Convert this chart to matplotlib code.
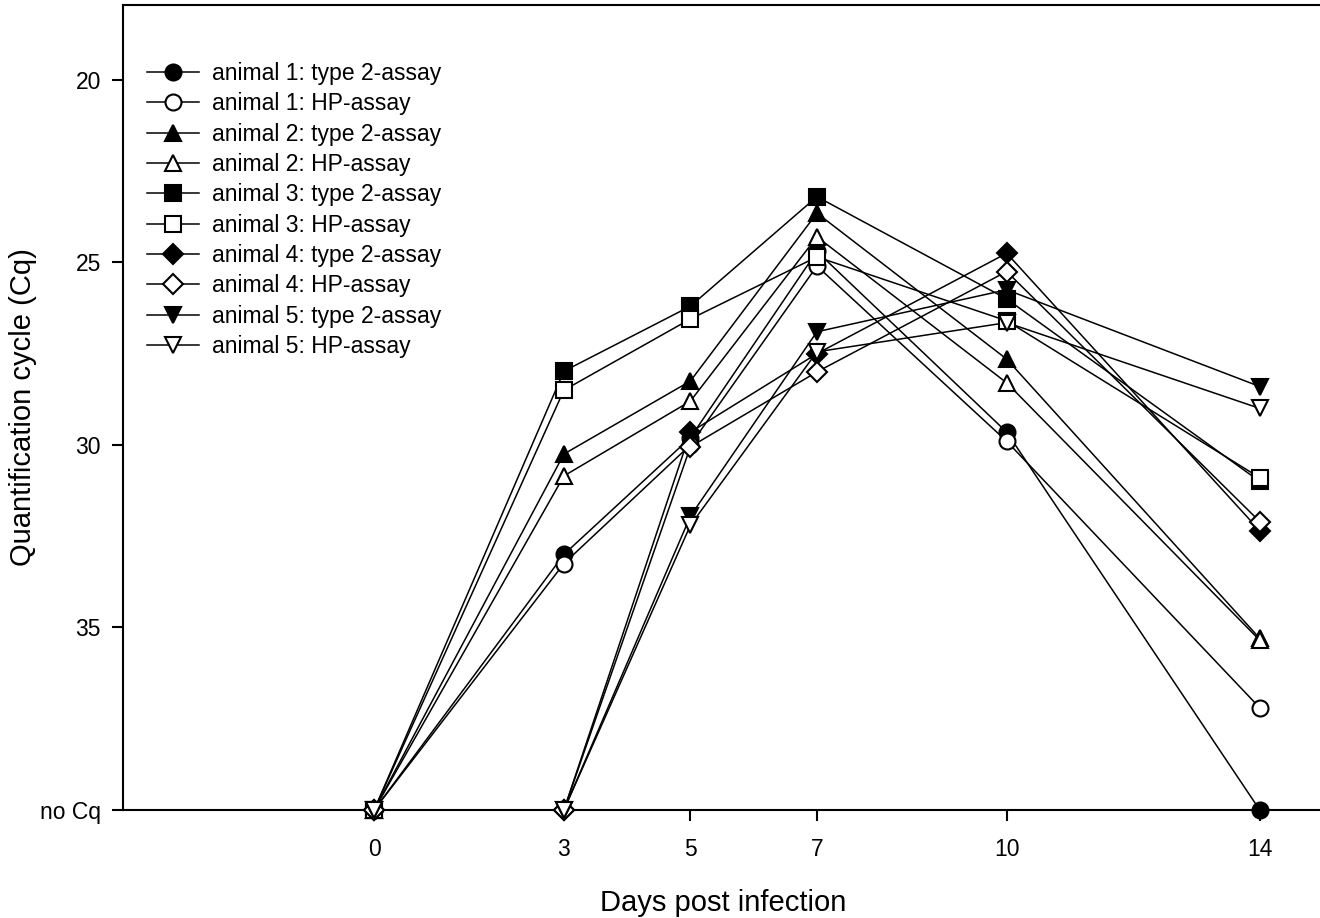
import matplotlib
matplotlib.use("Agg")
import matplotlib.pyplot as plt
from matplotlib.lines import Line2D

plt.rcParams['font.family'] = ['Liberation Sans', 'DejaVu Sans']

# data (40 = no Cq)
days = [0, 3, 5, 7, 10, 14]
a1_type2 = [40, 33.0, 29.8, 24.7, 29.65, 40]
a1_hp = [40, 33.25, 30.0, 25.1, 29.9, 37.2]
a2_type2 = [40, 30.25, 28.25, 23.65, 27.65, 35.3]
a2_hp = [40, 30.85, 28.8, 24.3, 28.3, 35.35]
a3_type2 = [40, 27.98, 26.2, 23.2, 26.0, 31.0]
a3_hp = [40, 28.5, 26.55, 24.85, 26.6, 30.9]
a4_type2 = [40, 40, 29.65, 27.5, 24.75, 32.35]
a4_hp = [40, 40, 30.05, 28.0, 25.25, 32.1]
a5_type2 = [40, 40, 31.95, 26.9, 25.75, 28.4]
a5_hp = [40, 40, 32.2, 27.45, 26.65, 29.0]

labels = ['animal 1: type 2-assay', 'animal 1: HP-assay',
          'animal 2: type 2-assay', 'animal 2: HP-assay',
          'animal 3: type 2-assay', 'animal 3: HP-assay',
          'animal 4: type 2-assay', 'animal 4: HP-assay',
          'animal 5: type 2-assay', 'animal 5: HP-assay']
series = [a1_type2, a1_hp, a2_type2, a2_hp, a3_type2, a3_hp,
          a4_type2, a4_hp, a5_type2, a5_hp]

yticks = [20, 25, 30, 35, 40]
ytick_labels = ['20', '25', '30', '35', 'no Cq']

markers = ['o', 'o', '^', '^', 's', 's', 'D', 'D', 'v', 'v']
sizes = {'o': 11.5, '^': 12, 's': 11, 'D': 10, 'v': 12}

fig = plt.figure(figsize=(13.2, 9.18), dpi=100)
ax = fig.add_axes([123/1320, 1-810/918, 1200/1320, 805/918])

handles = []
for i, (ys, lab) in enumerate(zip(series, labels)):
    m = markers[i]
    fc = 'black' if i % 2 == 0 else 'white'
    ax.plot(days, ys, '-', color='black', lw=1.1, zorder=2)
    ax.plot(days, ys, ls='none', marker=m, ms=sizes[m], mfc=fc,
            mec='black', mew=1.5, zorder=3 + i * 0.01, clip_on=False)
    handles.append(Line2D([], [], color='black', lw=1.1, marker=m,
                          ms=sizes[m], mfc=fc, mec='black', mew=1.5, label=lab))

ax.set_xlim(-3.97, 15.0)
ax.set_ylim(40, 17.95)
ax.set_xticks(days)
ax.set_yticks(yticks)
ax.set_yticklabels(ytick_labels)

for s in ax.spines.values():
    s.set_linewidth(1.5)
ax.tick_params(axis='both', direction='out', length=8, width=1.5, labelsize=16.5)
ax.tick_params(axis='x', pad=12)
ax.tick_params(axis='y', pad=8)

ax.set_xlabel('Days post infection', fontsize=21, labelpad=20)
ax.set_ylabel('Quantification cycle (Cq)', fontsize=21, labelpad=2)

ax.legend(handles=handles, loc='upper left', bbox_to_anchor=(0.02, 0.929),
          frameon=False, fontsize=16.5, borderpad=0, borderaxespad=0,
          handlelength=2.27, handletextpad=0.57, labelspacing=0.32)

fig.savefig('out.png', dpi=100)
